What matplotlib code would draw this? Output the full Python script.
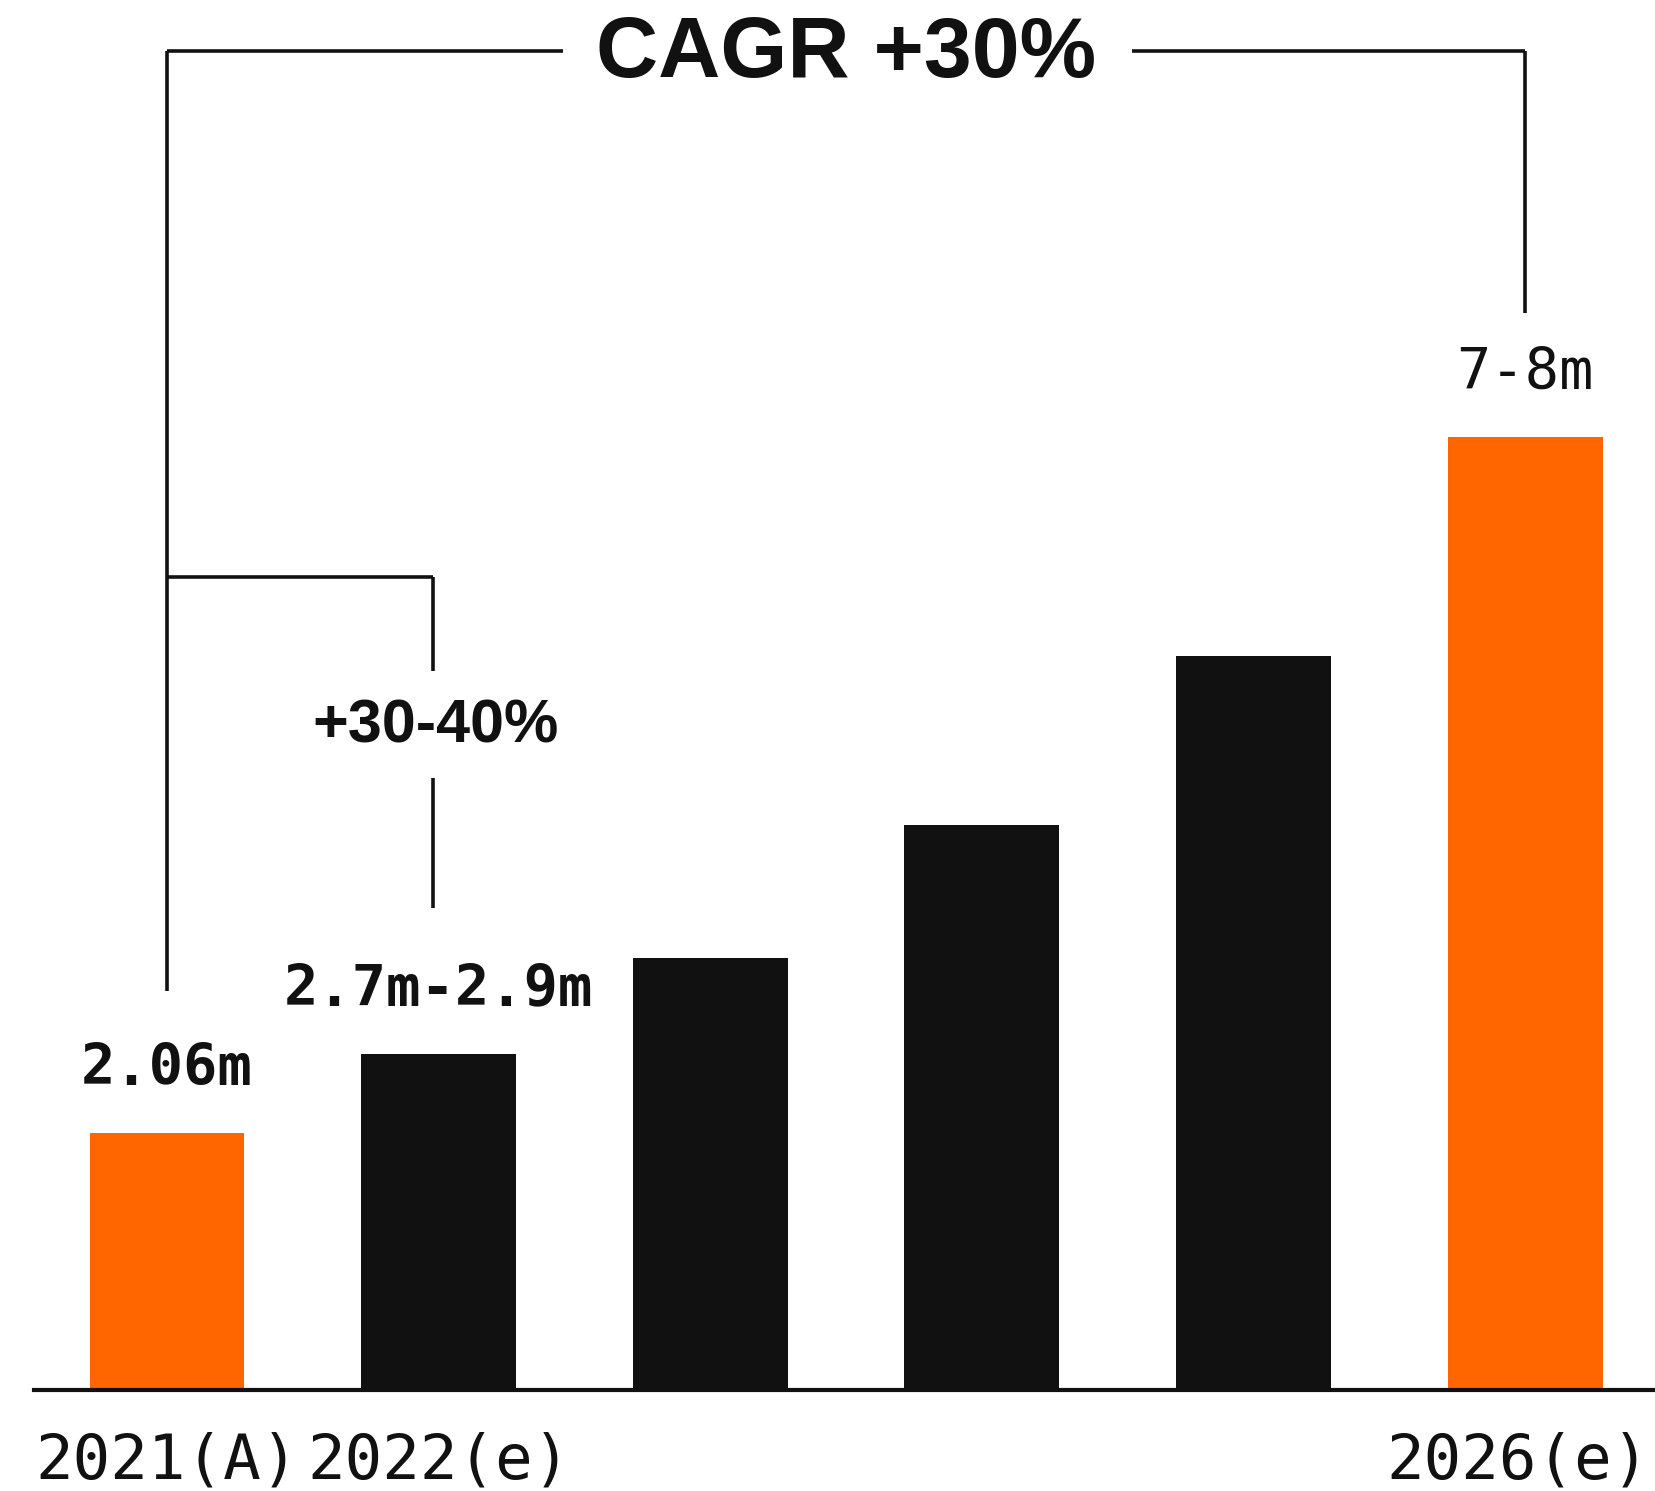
import matplotlib
matplotlib.use("Agg")
import matplotlib.pyplot as plt

# Revenue by year (millions)
years = ["2021(A)", "2022(e)", "2023(e)", "2024(e)", "2025(e)", "2026(e)"]
tick_labels = ["2021(A)", "2022(e)", "", "", "", "2026(e)"]
values = [2.06, 2.7, 3.47, 4.54, 5.89, 7.65]
bar_colors = ["#FF6600", "#111111", "#111111", "#111111", "#111111", "#FF6600"]
value_labels = ["2.06m", "2.7m-2.9m", "", "", "", "7-8m"]
value_weights = ["bold", "bold", "normal", "normal", "normal", "normal"]
cagr_text = "CAGR +30%"
growth_text = "+30-40%"

INK = "#111111"
MONO = ["DejaVu Sans Mono"]
SANS = ["Liberation Sans", "DejaVu Sans"]

fig = plt.figure(figsize=(16.55, 14.91), dpi=100)
ax = fig.add_axes([0.0205, 0.0677, 0.9795, 0.9323])

x = list(range(len(values)))
ax.bar(x, values, width=0.57, color=bar_colors, zorder=2)

ax.set_xlim(-0.49, 5.478)
ax.set_ylim(0, 11.16)

for s in ["top", "right", "left"]:
    ax.spines[s].set_visible(False)
ax.spines["bottom"].set_linewidth(3)
ax.spines["bottom"].set_color(INK)
ax.set_yticks([])
ax.set_xticks([])

# year labels under the axis line; the last one is nudged left to stay on canvas
for xi, lab in zip(x, tick_labels):
    if lab:
        dx = -5 if xi == x[-1] else 0
        ax.annotate(lab, (xi, 0), xycoords="data", xytext=(dx, -29.5),
                    textcoords="offset points", ha="center", va="top",
                    fontfamily=MONO, fontsize=45, color=INK,
                    annotation_clip=False)

# value labels above bars
for xi, v, lab, w in zip(x, values, value_labels, value_weights):
    if lab:
        ax.annotate(lab, (xi, v), xytext=(0, 46), textcoords="offset points",
                    ha="center", va="center", fontfamily=MONO, fontsize=41,
                    fontweight=w, color=INK)

lw = 2.6
# large CAGR bracket spanning first to last bar
top_y = 10.75
ax.plot([0, 0], [3.2, top_y], color=INK, lw=lw, solid_capstyle="butt")
ax.plot([0, 1.456], [top_y, top_y], color=INK, lw=lw, solid_capstyle="butt")
ax.plot([3.553, 5], [top_y, top_y], color=INK, lw=lw, solid_capstyle="butt")
ax.plot([5, 5], [top_y, 8.65], color=INK, lw=lw, solid_capstyle="butt")
ax.text(2.5, 10.72, cagr_text, ha="center", va="center", fontfamily=SANS,
        fontsize=62, fontweight="bold", color=INK)

# small bracket for the first-year growth
sx = 0.98
sy = 6.53
ax.plot([0, sx], [sy, sy], color=INK, lw=lw, solid_capstyle="butt")
ax.plot([sx, sx], [sy, 5.77], color=INK, lw=lw, solid_capstyle="butt")
ax.plot([sx, sx], [4.915, 3.873], color=INK, lw=lw, solid_capstyle="butt")
ax.text(sx + 0.01, 5.32, growth_text, ha="center", va="center", fontfamily=SANS,
        fontsize=44, fontweight="bold", color=INK)

fig.savefig("out.png", dpi=100, facecolor="white")
